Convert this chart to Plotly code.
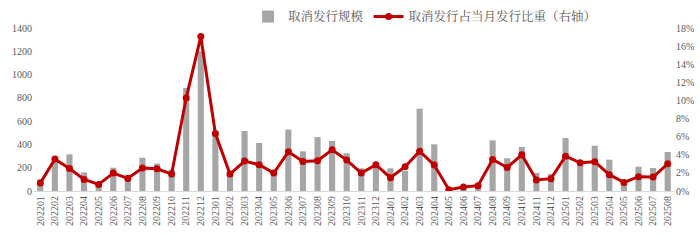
import plotly.graph_objects as go

months = ["202201","202202","202203","202204","202205","202206","202207","202208","202209","202210",
          "202211","202212","202301","202302","202303","202304","202305","202306","202307","202308",
          "202309","202310","202311","202312","202401","202402","202403","202404","202405","202406",
          "202407","202408","202409","202410","202411","202412","202501","202502","202503","202504",
          "202505","202506","202507","202508"]
cancel_scale = [100, 255, 315, 160, 60, 200, 140, 285, 235, 185,
                885, 1200, 490, 140, 515, 412, 165, 527, 341, 464,
                430, 324, 195, 205, 195, 172, 707, 401, 10, 52,
                57, 435, 281, 378, 155, 146, 455, 240, 389, 269,
                80, 209, 198, 335]
cancel_ratio = [0.88, 3.52, 2.49, 1.28, 0.73, 1.98, 1.39, 2.53, 2.46, 1.87,
                10.26, 17.05, 6.34, 1.87, 3.30, 2.90, 1.98, 4.33, 3.26, 3.34,
                4.55, 3.41, 1.98, 2.90, 1.47, 2.68, 4.40, 2.86, 0.15, 0.44,
                0.59, 3.48, 2.60, 4.00, 1.21, 1.36, 3.85, 3.12, 3.23, 1.80,
                0.95, 1.58, 1.54, 3.00]
left_ticks = [0, 200, 400, 600, 800, 1000, 1200, 1400]
right_ticks = [0, 2, 4, 6, 8, 10, 12, 14, 16, 18]

font_family = "Liberation Serif, Noto Serif CJK SC, Noto Sans CJK SC, serif"

fig = go.Figure()
fig.add_trace(go.Bar(
    x=months, y=cancel_scale, name="取消发行规模",
    marker=dict(color="#A6A6A6", line=dict(width=0)),
))
fig.add_trace(go.Scatter(
    x=months, y=cancel_ratio, name="取消发行占当月发行比重（右轴）",
    yaxis="y2", mode="lines+markers",
    line=dict(color="#C00000", width=3),
    marker=dict(color="#C00000", size=7),
))

fig.update_layout(
    width=700, height=245,
    margin=dict(l=33, r=25, t=28, b=54, autoexpand=False),
    paper_bgcolor="white", plot_bgcolor="white",
    font=dict(family=font_family, size=10, color="#595959"),
    bargap=0.58,
    showlegend=True,
    legend=dict(orientation="h", x=0.335, xanchor="left", y=1.16, yanchor="top",
                font=dict(size=12.5, color="#595959"),
                bgcolor="rgba(0,0,0,0)", tracegroupgap=0),
    xaxis=dict(type="category", tickangle=-90, showgrid=False, showline=True,
               linecolor="#D9D9D9", linewidth=1, ticks="", range=[-0.5, 43.5],
               tickfont=dict(size=10, color="#595959")),
    yaxis=dict(range=[0, 1400], tickvals=left_ticks, ticktext=[str(v) for v in left_ticks],
               showgrid=False, zeroline=False, showline=False, ticks="",
               tickfont=dict(size=10, color="#595959")),
    yaxis2=dict(range=[0, 18], tickvals=right_ticks, ticktext=[f"{v}%" for v in right_ticks],
                overlaying="y", side="right", showgrid=False, zeroline=False,
                showline=False, ticks="", tickfont=dict(size=10, color="#595959")),
)

fig.write_html("out.html")
